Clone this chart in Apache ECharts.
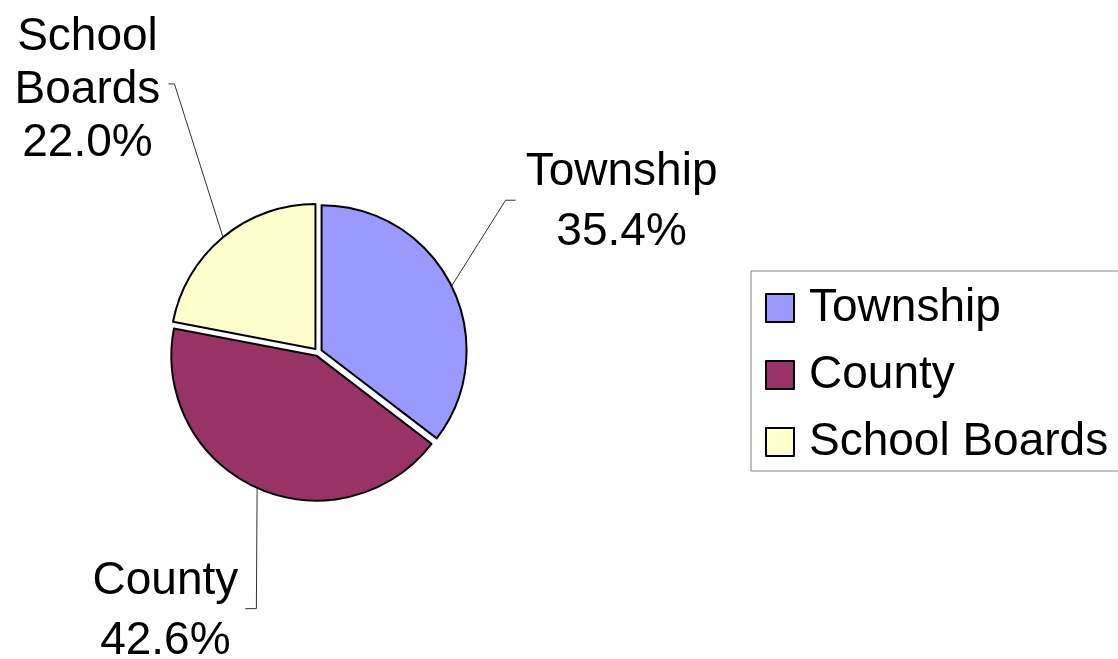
<!DOCTYPE html>
<html>
<head>
<meta charset="utf-8">
<script src="https://cdn.jsdelivr.net/npm/echarts@6/dist/echarts.min.js"></script>
<style>
  html, body { margin: 0; padding: 0; background: #fff; }
  #main { width: 1118px; height: 659px; }
</style>
</head>
<body>
<div id="main"></div>
<script>
// data
const categories = ['Township', 'County', 'School Boards'];
const shares = [35.4, 42.6, 22.0];
const sliceColors = ['#9999FF', '#993366', '#FFFFCC'];

// where each label sits (centre), and where its leader line bends / ends
const labelSpots = [
  { x: 618, y: 204, lineHeight: 60, elbow: [502, 202], end: [512, 202] },
  { x: 167, y: 608, lineHeight: 60, elbow: [258, 605], end: [247, 605] },
  { x: 90, y: 93, lineHeight: 53, elbow: [177, 87], end: [171, 87] }
];

const font = 'Liberation Sans, Arial, sans-serif';

const chart = echarts.init(document.getElementById('main'));

chart.setOption({
  animation: false,
  backgroundColor: '#fff',
  legend: {
    orient: 'vertical',
    left: 751,
    top: 271,
    padding: [14, 14, 6, 14],
    itemWidth: 28,
    itemHeight: 28,
    itemGap: 21,
    icon: 'rect',
    borderColor: '#808080',
    borderWidth: 1,
    selectedMode: false,
    data: categories,
    textStyle: {
      fontFamily: font,
      fontSize: 46,
      lineHeight: 46,
      color: '#000',
      padding: [0, 0, 0, 10]
    }
  },
  series: [{
    type: 'pie',
    center: [318, 352],
    radius: 145,
    startAngle: 90,
    clockwise: true,
    avoidLabelOverlap: false,
    selectedMode: 'multiple',
    selectedOffset: 4,
    data: categories.map((name, i) => ({
      name: name,
      value: shares[i],
      selected: true,
      itemStyle: { color: sliceColors[i] },
      label: { lineHeight: labelSpots[i].lineHeight }
    })),
    itemStyle: { borderColor: '#000', borderWidth: 2 },
    select: { itemStyle: { borderColor: '#000', borderWidth: 2 } },
    emphasis: { disabled: true },
    label: {
      show: true,
      position: 'outside',
      fontFamily: font,
      fontSize: 46,
      color: '#000',
      formatter: p => p.name.replace(' ', '\n') + '\n' + p.value.toFixed(1) + '%'
    },
    labelLine: { show: true, lineStyle: { color: '#333', width: 1 } },
    labelLayout: p => {
      const s = labelSpots[p.dataIndex];
      const r = p.labelRect;
      // anchor x of the label before re-aligning it to centre
      const ax = p.align === 'left' ? r.x : p.align === 'right' ? r.x + r.width : r.x + r.width / 2;
      return {
        align: 'center',
        dx: s.x - ax,
        dy: s.y - (r.y + r.height / 2),
        labelLinePoints: [p.labelLinePoints[0], s.elbow, s.end]
      };
    }
  }]
});
</script>
</body>
</html>
